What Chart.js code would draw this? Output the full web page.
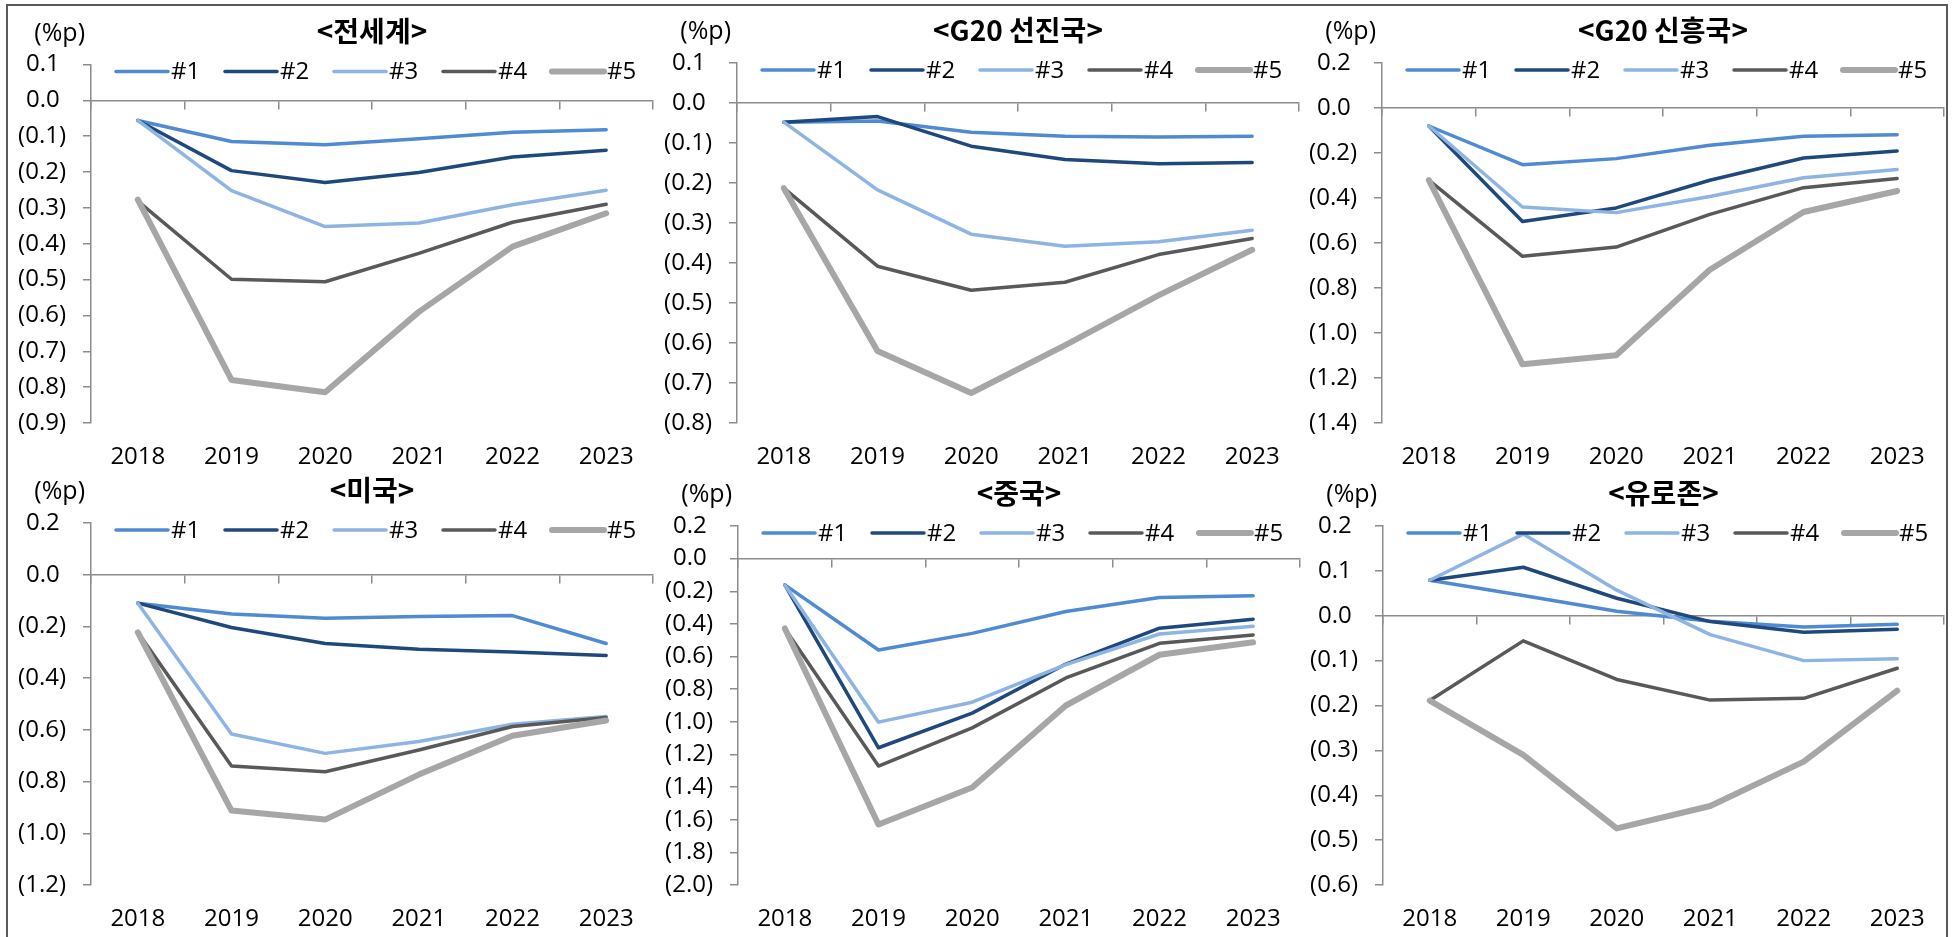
<!DOCTYPE html>
<html lang="ko">
<head>
<meta charset="utf-8">
<title>시나리오별 성장률 영향</title>
<script src="https://cdn.jsdelivr.net/npm/chart.js@4.4.1/dist/chart.umd.min.js"></script>
<style>
  html, body { margin: 0; padding: 0; background: #fff; }
  body { width: 1954px; height: 937px; position: relative; overflow: hidden; }
  #frame { position: absolute; left: 6px; top: 4px; width: 1942px; height: 960px;
           border: 2px solid #5a5a5a; box-sizing: border-box; }
  .panel { position: absolute; }
  .panel canvas { display: block; }
</style>
</head>
<body>
<div id="frame"></div>
<div id="panels"></div>

<script>
// ---------- data ----------
const years = ['2018', '2019', '2020', '2021', '2022', '2023'];
const seriesNames = ['#1', '#2', '#3', '#4', '#5'];

// 전세계
const worldData = [
  [-0.056, -0.115, -0.124, -0.107, -0.089, -0.082],
  [-0.056, -0.196, -0.229, -0.201, -0.158, -0.139],
  [-0.056, -0.252, -0.352, -0.342, -0.291, -0.251],
  [-0.281, -0.499, -0.506, -0.427, -0.340, -0.290],
  [-0.277, -0.780, -0.814, -0.590, -0.408, -0.315]
];
// G20 선진국
const advancedData = [
  [-0.048, -0.045, -0.073, -0.083, -0.085, -0.083],
  [-0.048, -0.034, -0.108, -0.141, -0.152, -0.149],
  [-0.048, -0.217, -0.328, -0.358, -0.347, -0.318],
  [-0.213, -0.408, -0.468, -0.448, -0.379, -0.339],
  [-0.213, -0.620, -0.725, -0.606, -0.481, -0.367]
];
// G20 신흥국
const emergingData = [
  [-0.080, -0.252, -0.225, -0.166, -0.126, -0.119],
  [-0.080, -0.504, -0.444, -0.321, -0.222, -0.191],
  [-0.080, -0.440, -0.465, -0.393, -0.310, -0.273],
  [-0.321, -0.659, -0.618, -0.473, -0.354, -0.313],
  [-0.321, -1.139, -1.099, -0.719, -0.462, -0.369]
];
// 미국
const usData = [
  [-0.110, -0.152, -0.168, -0.162, -0.158, -0.266],
  [-0.110, -0.204, -0.266, -0.288, -0.299, -0.312],
  [-0.110, -0.616, -0.691, -0.645, -0.578, -0.548],
  [-0.223, -0.740, -0.762, -0.678, -0.587, -0.552],
  [-0.223, -0.912, -0.947, -0.773, -0.623, -0.564]
];
// 중국
const chinaData = [
  [-0.161, -0.560, -0.458, -0.324, -0.238, -0.228],
  [-0.161, -1.159, -0.947, -0.646, -0.426, -0.371],
  [-0.161, -1.002, -0.880, -0.650, -0.462, -0.415],
  [-0.428, -1.271, -1.037, -0.731, -0.519, -0.468],
  [-0.428, -1.629, -1.403, -0.900, -0.589, -0.513]
];
// 유로존
const euroData = [
  [0.079, 0.045, 0.010, -0.012, -0.025, -0.019],
  [0.079, 0.108, 0.039, -0.013, -0.037, -0.030],
  [0.079, 0.182, 0.057, -0.042, -0.100, -0.096],
  [-0.189, -0.056, -0.142, -0.188, -0.184, -0.117],
  [-0.189, -0.310, -0.474, -0.424, -0.325, -0.167]
];

// ---------- styles ----------
const seriesColors = ['#4f8ad3', '#1f497d', '#8db4e2', '#595959', '#a6a6a6'];
const seriesWidths = [3.5, 3.5, 3.5, 3.5, 6];
const axisColor = '#8c8c8c';
const latinFont = '"Open Sans", "Noto Sans", sans-serif';
const titleFont = '"Noto Sans CJK KR", "Noto Sans", sans-serif';
const tickSize = 24;

// box = canvas rect on page, area = target plot rect on page
const panels = [
  { title: '<전세계>',     data: worldData,    min: -0.9, max: 0.1, step: 0.1,
    box: { x: 8,    y: 6,   w: 652, h: 462 }, area: { l: 91,   r: 653,  t: 64.5, b: 423 } },
  { title: '<G20 선진국>', data: advancedData, min: -0.8, max: 0.1, step: 0.1,
    box: { x: 660,  y: 6,   w: 646, h: 462 }, area: { l: 737,  r: 1299, t: 63,   b: 423 } },
  { title: '<G20 신흥국>', data: emergingData, min: -1.4, max: 0.2, step: 0.2,
    box: { x: 1306, y: 6,   w: 644, h: 462 }, area: { l: 1382, r: 1944, t: 63,   b: 423 } },
  { title: '<미국>',       data: usData,       min: -1.2, max: 0.2, step: 0.2,
    box: { x: 8,    y: 468, w: 652, h: 467 }, area: { l: 91,   r: 653,  t: 523,  b: 885 } },
  { title: '<중국>',       data: chinaData,    min: -2.0, max: 0.2, step: 0.2,
    box: { x: 660,  y: 468, w: 646, h: 467 }, area: { l: 738,  r: 1300, t: 526,  b: 885 } },
  { title: '<유로존>',     data: euroData,     min: -0.6, max: 0.2, step: 0.1,
    box: { x: 1306, y: 468, w: 644, h: 467 }, area: { l: 1383, r: 1944, t: 526,  b: 885 } }
];

// 음수는 괄호, 양수는 ')' 자리만큼 공백
function fmtTick(v) {
  const r = Math.round(v * 10) / 10;
  if (r < 0) return '(' + Math.abs(r).toFixed(1) + ')';
  return r.toFixed(1) + ' ';
}

// title, unit and legend drawn over the chart
const decor = {
  id: 'decor',
  afterDraw(chart, args, opts) {
    const { ctx, chartArea: a } = chart;
    ctx.save();
    ctx.fillStyle = '#000';
    ctx.textBaseline = 'middle';

    ctx.font = 'bold 28px ' + titleFont;
    ctx.textAlign = 'center';
    ctx.fillText(opts.title, (a.left + a.right) / 2, a.top - 33);

    ctx.font = '25px ' + latinFont;
    ctx.textAlign = 'right';
    ctx.fillText('(%p)', a.left - 6, a.top - 31);

    ctx.font = '24px ' + latinFont;
    ctx.textAlign = 'left';
    chart.data.datasets.forEach((ds, i) => {
      const x0 = a.left + 25 + i * 109;
      const y = a.top + 7;
      ctx.strokeStyle = ds.borderColor;
      ctx.lineWidth = ds.borderWidth;
      ctx.lineCap = 'round';
      ctx.beginPath();
      ctx.moveTo(x0, y);
      ctx.lineTo(x0 + 52, y);
      ctx.stroke();
      ctx.fillText(ds.label, x0 + 55, y + 1);
    });
    ctx.restore();
  }
};

const holder = document.getElementById('panels');

panels.forEach((p) => {
  const div = document.createElement('div');
  div.className = 'panel';
  div.style.left = p.box.x + 'px';
  div.style.top = p.box.y + 'px';
  const canvas = document.createElement('canvas');
  canvas.width = p.box.w;
  canvas.height = p.box.h;
  div.appendChild(canvas);
  holder.appendChild(div);

  const yWidth = p.area.l - p.box.x;
  const xHeight = p.box.y + p.box.h - p.area.b;

  new Chart(canvas, {
    type: 'line',
    data: {
      labels: years,
      datasets: p.data.map((vals, i) => ({
        label: seriesNames[i],
        data: vals,
        borderColor: seriesColors[i],
        backgroundColor: seriesColors[i],
        borderWidth: seriesWidths[i],
        pointRadius: 0,
        tension: 0,
        borderJoinStyle: 'round',
        borderCapStyle: 'round',
        order: 4 - i,
        xAxisID: 'x',
        yAxisID: 'y'
      }))
    },
    options: {
      responsive: false,
      animation: false,
      events: [],
      layout: {
        padding: { left: 0, top: p.area.t - p.box.y, right: p.box.x + p.box.w - p.area.r, bottom: 0 }
      },
      plugins: {
        legend: { display: false },
        tooltip: { enabled: false },
        decor: { title: p.title }
      },
      scales: {
        x: {
          type: 'category',
          position: 'bottom',
          offset: true,
          grid: { display: false, drawTicks: false },
          border: { display: false },
          ticks: { color: '#000', font: { family: latinFont, size: tickSize }, padding: 20, maxRotation: 0, autoSkip: false },
          afterFit: s => { s.height = xHeight; }
        },
        x2: {
          axis: 'x',
          type: 'category',
          labels: years,
          position: { y: 0 },
          offset: true,
          grid: { offset: true, drawOnChartArea: false, drawTicks: true, tickLength: 8, color: axisColor, lineWidth: 1.5 },
          border: { display: true, color: axisColor, width: 1.5 },
          ticks: { display: false }
        },
        y: {
          min: p.min,
          max: p.max,
          grid: { drawOnChartArea: false, tickLength: 8, color: axisColor, lineWidth: 1.5 },
          border: { color: axisColor, width: 1.5 },
          ticks: {
            stepSize: p.step,
            autoSkip: false,
            padding: 17,
            color: '#000',
            font: { family: latinFont, size: tickSize },
            callback: v => fmtTick(v)
          },
          afterFit: s => { s.width = yWidth; }
        }
      }
    },
    plugins: [decor]
  });
});
</script>
</body>
</html>
